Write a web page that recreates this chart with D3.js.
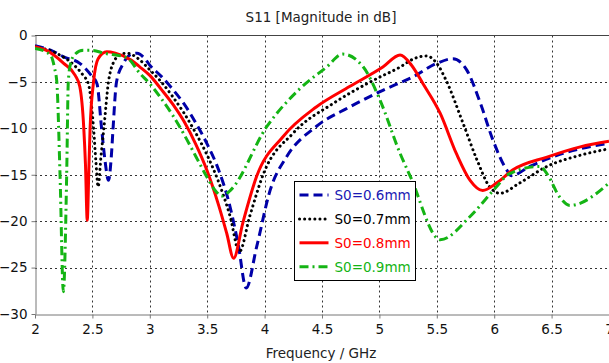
<!DOCTYPE html>
<html>
<head>
<meta charset="utf-8">
<script src="https://cdn.jsdelivr.net/npm/d3@7"></script>
<style>
  body { margin: 0; background: #fff; }
  svg { display: block; font-family: "DejaVu Sans", sans-serif; }
</style>
</head>
<body>
<div id="chart"></div>
<script>
// S11 curves, [GHz, dB]
const s06 = [[2.0,-1.1],[2.14,-1.6],[2.25,-2.3],[2.39,-3.0],[2.49,-4.3],[2.54,-5.2],[2.58,-10],[2.61,-13.5],[2.64,-15.6],[2.665,-13],[2.68,-10],[2.71,-5],[2.77,-3.0],[2.84,-2.0],[2.89,-1.9],[2.95,-2.4],[3.0,-3.2],[3.1,-4.4],[3.2,-5.8],[3.3,-7.4],[3.4,-9.4],[3.5,-11.7],[3.6,-14.5],[3.7,-18.5],[3.77,-22.5],[3.84,-27.2],[3.93,-22.8],[4.05,-16.6],[4.19,-13.1],[4.45,-9.8],[4.74,-7.7],[5.03,-5.9],[5.3,-4.4],[5.5,-3.0],[5.64,-2.5],[5.76,-3.7],[5.88,-7.3],[5.99,-11.3],[6.11,-14.5],[6.15,-15.1],[6.31,-14.1],[6.6,-12.7],[7.0,-11.6]];
const s07 = [[2.0,-1.2],[2.2,-2.0],[2.35,-3.3],[2.42,-4.3],[2.465,-5.2],[2.51,-10],[2.53,-13.5],[2.55,-16.3],[2.575,-13],[2.6,-10],[2.64,-5],[2.68,-3.0],[2.74,-2.1],[2.8,-1.9],[2.9,-2.5],[3.0,-3.7],[3.1,-5.0],[3.2,-6.6],[3.3,-8.4],[3.4,-10.5],[3.5,-12.9],[3.6,-15.8],[3.7,-19.5],[3.78,-23.3],[3.87,-19.5],[3.99,-14.9],[4.25,-10.5],[4.6,-7.3],[4.89,-5.2],[5.0,-4.5],[5.18,-3.4],[5.3,-2.5],[5.41,-2.2],[5.5,-3.0],[5.58,-4.8],[5.73,-9.5],[5.85,-13.4],[5.96,-16.3],[6.05,-17.0],[6.22,-15.9],[6.46,-14.1],[6.75,-12.9],[7.0,-12.2]];
const s08 = [[2.0,-1.2],[2.1,-1.6],[2.25,-3.0],[2.35,-4.3],[2.39,-5.5],[2.425,-10],[2.44,-14],[2.455,-19.9],[2.47,-14],[2.48,-10],[2.51,-5],[2.55,-2.5],[2.625,-1.75],[2.7,-1.9],[2.83,-2.6],[2.915,-3.4],[3.0,-4.3],[3.1,-5.8],[3.2,-7.4],[3.3,-9.3],[3.4,-11.7],[3.5,-14.6],[3.6,-18.3],[3.67,-21.3],[3.73,-24.0],[3.81,-20.2],[3.93,-15.2],[4.16,-10.9],[4.45,-7.7],[4.74,-5.5],[5.03,-3.4],[5.18,-2.1],[5.28,-3.2],[5.38,-5.2],[5.53,-8.4],[5.67,-12.7],[5.79,-15.6],[5.9,-16.7],[6.02,-15.9],[6.16,-14.5],[6.46,-13.1],[6.75,-12.0],[7.0,-11.4]];
const s09 = [[2.0,-1.4],[2.1,-1.8],[2.14,-2.2],[2.17,-3.5],[2.19,-5],[2.218,-15],[2.247,-27.6],[2.276,-15],[2.29,-5],[2.31,-3.0],[2.35,-2.0],[2.42,-1.6],[2.5,-1.6],[2.6,-1.9],[2.8,-2.4],[2.915,-4.1],[3.0,-5.2],[3.1,-6.8],[3.2,-8.6],[3.3,-10.7],[3.4,-13.0],[3.5,-15.3],[3.57,-16.7],[3.63,-17.3],[3.7,-16.7],[4.02,-9.8],[4.31,-5.7],[4.54,-3.4],[4.68,-2.0],[4.86,-3.4],[5.0,-6.8],[5.18,-12.7],[5.27,-15.2],[5.53,-22.0],[5.79,-19.5],[6.02,-16.3],[6.13,-14.9],[6.4,-14.1],[6.46,-14.9],[6.57,-17.4],[6.66,-18.3],[7.0,-15.9]];

const seriesNames = ['S0=0.6mm', 'S0=0.7mm', 'S0=0.8mm', 'S0=0.9mm'];
const xTicks = [2, 2.5, 3, 3.5, 4, 4.5, 5, 5.5, 6, 6.5, 7];
const yTicks = [0, -5, -10, -15, -20, -25, -30];

const styles = [
  { color: '#0000a8', text: '#1a1ab4', dash: '9,5', cap: 'butt', w: 3 },
  { color: '#000000', text: '#000000', dash: '0.1,5', cap: 'round', w: 3 },
  { color: '#ff0000', text: '#ff0000', dash: null, cap: 'butt', w: 3 },
  { color: '#14b414', text: '#14b414', dash: '9,4,2,4', cap: 'butt', w: 3 }
];

const width = 609, height = 363;
const margin = { top: 35.5, left: 35, right: 0, bottom: 49 };

const svg = d3.select('#chart').append('svg')
  .attr('width', width)
  .attr('height', height);

const x = d3.scaleLinear().domain([2, 7]).range([margin.left, width - margin.right]);
const y = d3.scaleLinear().domain([-30, 0]).range([height - margin.bottom, margin.top]);

// title
svg.append('text')
  .attr('x', 321).attr('y', 22)
  .attr('text-anchor', 'middle')
  .attr('font-size', 13.5)
  .attr('fill', '#222')
  .text('S11 [Magnitude in dB]');

// grid
const grid = svg.append('g').attr('class', 'grid');
grid.selectAll('.gx').data(xTicks.slice(1))
  .enter().append('line')
  .attr('x1', d => Math.round(x(d)) + 0.5).attr('x2', d => Math.round(x(d)) + 0.5)
  .attr('y1', y(0)).attr('y2', y(-30))
  .attr('stroke', '#333').attr('stroke-width', 1).attr('stroke-dasharray', '2,3');
grid.selectAll('.gy').data(yTicks.slice(1, -1))
  .enter().append('line')
  .attr('y1', d => Math.round(y(d)) + 0.5).attr('y2', d => Math.round(y(d)) + 0.5)
  .attr('x1', x(2)).attr('x2', width)
  .attr('stroke', '#333').attr('stroke-width', 1).attr('stroke-dasharray', '2,3');

// frame top
svg.append('line')
  .attr('x1', x(2)).attr('x2', width)
  .attr('y1', 35.5).attr('y2', 35.5)
  .attr('stroke', '#444').attr('stroke-width', 1);

// axes
const xAxis = svg.append('g')
  .attr('transform', `translate(0, ${Math.round(y(-30)) + 0.5})`)
  .call(d3.axisBottom(x).tickValues(xTicks).tickSize(4).tickSizeOuter(0).tickFormat(d3.format('')));
const yAxis = svg.append('g')
  .attr('transform', `translate(${x(2) + 0.5}, 0)`)
  .call(d3.axisLeft(y).tickValues(yTicks).tickSize(4).tickSizeOuter(0).tickFormat(d3.format('')));

[xAxis, yAxis].forEach(a => {
  a.select('.domain').attr('stroke', '#777');
  a.selectAll('.tick line').attr('stroke', '#777');
  a.selectAll('text').attr('font-family', '"DejaVu Sans", sans-serif')
    .attr('font-size', 13.5).attr('fill', '#111');
});
xAxis.selectAll('text').attr('dy', '0.9em');
yAxis.selectAll('text').attr('x', -8);

svg.append('text')
  .attr('x', 321).attr('y', 358)
  .attr('text-anchor', 'middle')
  .attr('font-size', 13.5)
  .attr('fill', '#222')
  .text('Frequency / GHz');

// curves
svg.append('clipPath').attr('id', 'clip')
  .append('rect').attr('x', x(2)).attr('y', y(0)).attr('width', width - x(2)).attr('height', y(-30) - y(0));

const line = d3.line()
  .x(d => x(d[0]))
  .y(d => y(d[1]))
  .curve(d3.curveMonotoneX);

const plot = svg.append('g').attr('clip-path', 'url(#clip)');
[s06, s07, s08, s09].forEach((s, i) => {
  plot.append('path')
    .datum(s)
    .attr('d', line)
    .attr('fill', 'none')
    .attr('stroke', styles[i].color)
    .attr('stroke-width', styles[i].w)
    .attr('stroke-linecap', styles[i].cap)
    .attr('stroke-linejoin', 'round')
    .attr('stroke-dasharray', styles[i].dash);
});

// legend
const legend = svg.append('g').attr('transform', 'translate(294.5, 181.5)');
legend.append('rect')
  .attr('width', 121).attr('height', 99)
  .attr('fill', '#fff').attr('stroke', '#000').attr('stroke-width', 1);
seriesNames.forEach((name, i) => {
  const ly = 13.5 + i * 23.9;
  legend.append('line')
    .attr('x1', 5).attr('x2', 34)
    .attr('y1', ly).attr('y2', ly)
    .attr('stroke', styles[i].color)
    .attr('stroke-width', styles[i].w)
    .attr('stroke-linecap', styles[i].cap)
    .attr('stroke-dasharray', styles[i].dash);
  legend.append('text')
    .attr('x', 40).attr('y', ly)
    .attr('dy', '0.36em')
    .attr('font-size', 13.5)
    .attr('fill', styles[i].text)
    .text(name);
});
</script>
</body>
</html>
